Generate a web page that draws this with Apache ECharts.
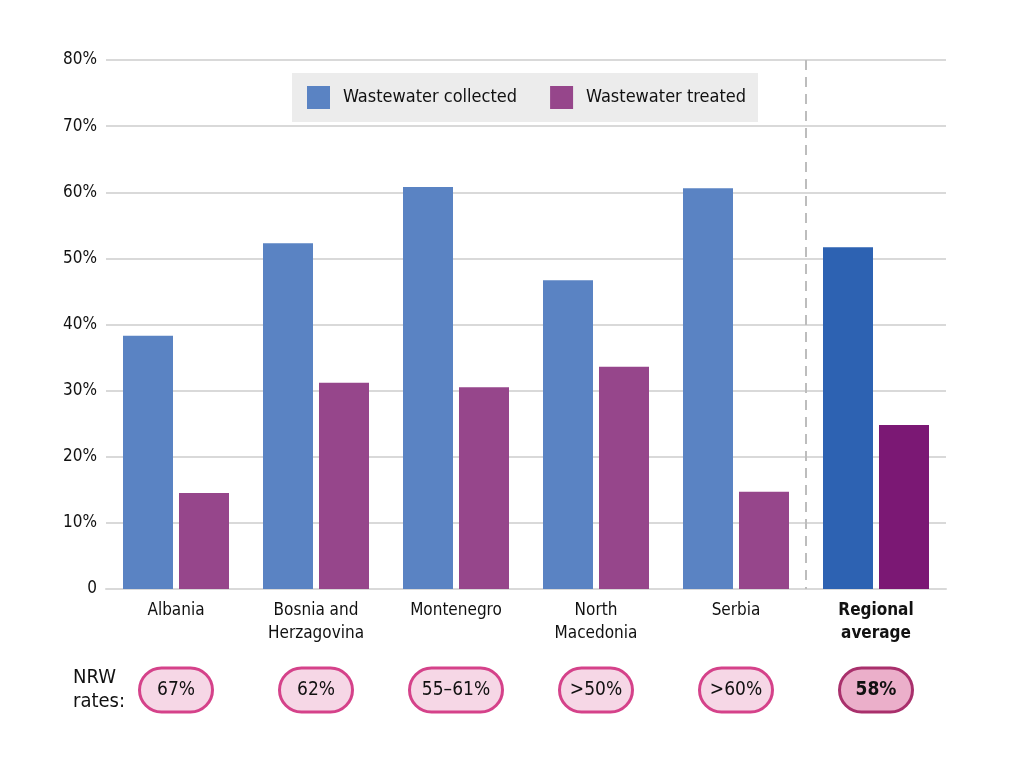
<!DOCTYPE html>
<html><head><meta charset="utf-8">
<script src="https://cdn.jsdelivr.net/npm/echarts@6/dist/echarts.min.js"></script>
<style>html,body{margin:0;padding:0;background:#fff}#c{width:1024px;height:768px}</style>
</head><body><div id="c"></div>
<script>
const categories = ['Albania', 'Bosnia and\nHerzagovina', 'Montenegro', 'North\nMacedonia', 'Serbia', 'Regional\naverage'];
const collected = [38.3, 52.3, 60.8, 46.7, 60.6, 51.7];
const treated = [14.5, 31.2, 30.5, 33.6, 14.7, 24.8];
const nrwRates = ['67%', '62%', '55–61%', '>50%', '>60%', '58%'];
const yTicks = [0, 10, 20, 30, 40, 50, 60, 70, 80];

const FONT = '"Liberation Sans Narrow", "DejaVu Sans Condensed", "Roboto", sans-serif';
const C1 = '#5a83c3', C2 = '#96468b', C1d = '#2d62b2', C2d = '#7b1874';
const last = categories.length - 1;

const chart = echarts.init(document.getElementById('c'));
const option = {
  animation: false,
  textStyle: { fontFamily: FONT },
  grid: { left: 106, right: 78, top: 60, bottom: 179 },
  legend: {
    left: 292, top: 73,
    orient: 'horizontal',
    backgroundColor: '#ececec',
    padding: [13, 12, 13, 15],
    itemWidth: 23, itemHeight: 23, itemGap: 33,
    icon: 'rect',
    textStyle: { fontSize: 18, color: '#111', fontFamily: FONT, padding: [0, 0, 0, 8] },
    data: ['Wastewater collected', 'Wastewater treated']
  },
  xAxis: {
    type: 'category', data: categories,
    axisLine: { lineStyle: { color: '#d9d9d9', width: 2 } },
    axisTick: { show: false },
    axisLabel: {
      fontSize: 17, color: '#111', lineHeight: 23, margin: 10, interval: 0,
      formatter: (v, i) => i === last ? '{b|' + v + '}' : v,
      rich: { b: { fontWeight: 'bold', fontSize: 17, lineHeight: 23, color: '#111' } }
    }
  },
  yAxis: {
    type: 'value', min: 0, max: 80, interval: 10,
    axisLine: { show: false }, axisTick: { show: false },
    splitLine: { lineStyle: { color: '#d9d9d9', width: 2 } },
    axisLabel: { fontSize: 17, color: '#111', margin: 9,
      formatter: v => yTicks.includes(v) ? (v === 0 ? '0' : v + '%') : '' }
  },
  series: [
    { name: 'Wastewater collected', type: 'bar', barWidth: 50, barGap: '12%',
      itemStyle: { color: C1 },
      data: collected.map((v, i) => i === last ? { value: v, itemStyle: { color: C1d } } : v) },
    { name: 'Wastewater treated', type: 'bar', barWidth: 50,
      itemStyle: { color: C2 },
      data: treated.map((v, i) => i === last ? { value: v, itemStyle: { color: C2d } } : v) }
  ]
};
chart.setOption(option);

function drawExtras() {
  const graphics = [];
  const xs = categories.map((_, i) => chart.convertToPixel({ xAxisIndex: 0 }, i));
  const yTop = chart.convertToPixel({ yAxisIndex: 0 }, 80);
  const y0 = chart.convertToPixel({ yAxisIndex: 0 }, 0);
  const xd = (xs[last - 1] + xs[last]) / 2;
  graphics.push({ type: 'line', shape: { x1: xd, y1: yTop, x2: xd, y2: y0 },
    style: { stroke: '#bdbdbd', lineWidth: 2, lineDash: [10, 7] }, z: 1 });
  const pillY = 668, pillH = 44;
  nrwRates.forEach((t, i) => {
    const w = t.length > 4 ? 93 : 73;
    const isLast = i === last;
    graphics.push({ type: 'rect',
      shape: { x: xs[i] - w / 2, y: pillY, width: w, height: pillH, r: 22 },
      style: { fill: isLast ? '#ebafca' : '#f6d7e6', stroke: isLast ? '#a9306c' : '#d5428a', lineWidth: 3 } });
    graphics.push({ type: 'text', x: xs[i], y: pillY + pillH / 2,
      style: { text: t, align: 'center', verticalAlign: 'middle', fontSize: 19,
        fontFamily: FONT, fontWeight: isLast ? 'bold' : 'normal', fill: '#111' } });
  });
  graphics.push({ type: 'text', x: 73, y: 666,
    style: { text: 'NRW\nrates:', fontSize: 20, lineHeight: 24, fontFamily: FONT, fill: '#111', align: 'left', verticalAlign: 'top' } });
  chart.setOption({ graphic: graphics });
}
drawExtras();
</script></body></html>
